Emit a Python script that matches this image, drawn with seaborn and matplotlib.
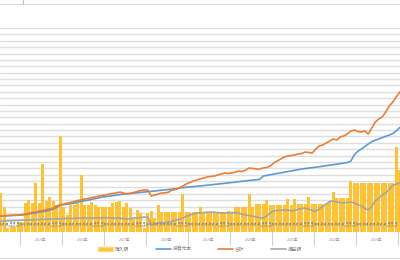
import matplotlib
matplotlib.use("Agg")
import matplotlib.pyplot as plt
import seaborn as sns
import pandas as pd
import numpy as np
from matplotlib.lines import Line2D
from matplotlib.patches import Patch

# ---- data (month index 0 = Jul 2014) ----
purchase = [6.1, 3.9, 0.6, 0.8, 0.8, 1.6, 1.6, 4.5, 5.0, 4.5, 7.7, 4.5, 10.7, 4.9, 5.5, 4.9,
            4.2, 15.1, 3.9, 2.7, 4.2, 4.2, 4.5, 8.9, 4.2, 4.2, 4.7, 4.2, 3.9, 3.9, 3.9, 3.9,
            4.5, 4.7, 4.9, 3.9, 4.5, 3.8, 2.2, 3.5, 3.0, 0.6, 3.0, 3.3, 2.2, 4.2, 3.1, 3.1,
            3.1, 3.1, 3.1, 3.1, 6.0, 3.1, 3.1, 3.1, 3.1, 3.9, 3.1, 3.1, 3.1, 3.1, 3.1, 3.1,
            3.1, 3.3, 3.1, 3.9, 3.9, 3.9, 3.9, 6.0, 3.9, 4.4, 4.4, 4.4, 5.0, 4.2, 4.2, 4.2,
            4.2, 4.2, 5.2, 4.2, 5.2, 4.4, 4.4, 4.4, 5.5, 4.4, 4.4, 4.4, 4.4, 4.4, 4.7, 6.3,
            5.3, 5.3, 5.3, 5.3, 8.0, 7.7, 7.7, 7.7, 7.7, 7.7, 7.7, 7.7, 7.7, 7.7, 7.7, 7.7,
            7.7, 13.3, 9.7]

principal = [5.1, 5.4, 5.6, 5.8, 6.0, 6.3, 6.6, 7.4, 8.2, 9.3, 10.0, 11.4, 12.0, 13.0, 14.3, 16.1,
             18.5, 22.4, 23.0, 23.6, 24.4, 25.2, 27.1, 28.0, 29.0, 30.0, 31.2, 32.4, 33.5, 34.9, 35.5, 36.2,
             37.0, 37.8, 38.6, 39.3, 40.0, 40.6, 41.0, 41.6, 42.2, 42.7, 43.2, 43.8, 44.3, 45.0, 45.5, 46.0,
             46.6, 47.4, 48.0, 49.0, 49.6, 50.3, 50.8, 51.3, 51.8, 52.2, 52.8, 53.4, 54.0, 54.6, 55.2, 55.8,
             56.4, 57.0, 57.6, 58.3, 59.0, 59.6, 60.2, 60.9, 61.4, 62.0, 62.4, 67.8, 68.8, 69.8, 70.8, 71.8,
             72.8, 73.8, 74.8, 75.8, 76.8, 77.8, 78.8, 79.5, 80.3, 81.0, 81.7, 82.4, 83.2, 84.0, 84.8, 85.6,
             86.4, 87.2, 88.0, 89.0, 91.0, 101.0, 106.5, 110.0, 114.0, 118.0, 121.5, 124.0, 126.0, 128.0, 130.0, 132.0,
             134.5, 138.5, 144.0]

total = [5.1, 5.4, 5.9, 6.2, 6.4, 6.7, 7.1, 8.2, 9.3, 10.6, 11.4, 12.9, 13.7, 15.3, 16.1, 17.6,
         20.8, 22.4, 23.9, 25.5, 26.3, 27.8, 29.4, 30.2, 31.8, 32.5, 34.1, 34.9, 36.5, 37.3, 38.0, 39.6,
         40.4, 41.2, 42.7, 41.2, 39.6, 40.4, 42.0, 43.5, 45.1, 45.9, 45.9, 36.5, 38.0, 39.6, 41.2, 41.2,
         42.7, 45.9, 46.7, 49.0, 52.2, 55.3, 57.6, 60.0, 61.6, 63.1, 64.7, 66.3, 67.1, 67.8, 69.4, 71.0,
         72.5, 71.8, 72.5, 74.1, 75.7, 74.9, 77.3, 80.4, 79.6, 78.8, 78.8, 80.4, 81.2, 83.5, 88.2, 91.4,
         94.5, 97.6, 99.2, 100.0, 100.8, 102.4, 103.1, 105.5, 104.7, 103.9, 110.2, 114.9, 116.5, 119.6, 122.7, 125.9,
         124.3, 129.0, 130.6, 133.7, 138.4, 140.0, 137.6, 136.9, 138.4, 133.7, 143.1, 152.5, 157.3, 160.4, 168.2, 177.6,
         183.9, 191.8, 199.6]

profit = [-3.0, -3.0, -2.5, -2.5, -2.0, -2.0, -1.5, -1.5, -1.0, -1.0, -0.5, -0.5, 0.0, 0.0, 0.5, 0.5,
          0.8, 0.5, 1.0, 1.5, 1.0, 1.5, 1.8, 2.0, 2.0, 1.5, 2.0, 2.0, 2.2, 2.0, 2.5, 2.0,
          2.0, 1.5, 2.0, 1.0, 0.5, 1.0, 2.0, 2.0, 2.5, 3.5, 3.0, -9.0, -7.0, -6.0, -5.0, -5.5,
          -4.5, -3.0, -1.5, 0.0, 2.0, 4.5, 6.5, 8.0, 9.5, 10.0, 10.5, 11.0, 11.4, 11.0, 10.5, 10.0,
          9.8, 10.0, 10.5, 10.0, 9.5, 8.0, 6.5, 5.5, 5.0, 3.5, 2.5, 2.0, 5.0, 10.0, 12.9, 14.0,
          14.0, 14.5, 14.5, 13.0, 14.0, 15.5, 17.0, 17.6, 16.0, 13.5, 12.9, 16.0, 20.0, 24.0, 28.0, 28.6,
          27.0, 26.0, 25.5, 26.5, 27.0, 25.5, 23.0, 20.8, 17.0, 14.5, 20.0, 28.6, 33.0, 38.0, 41.2, 47.0,
          53.0, 55.0, 57.0]

first_month = 7
years = [f"{y}年" for y in range(2015, 2024)]
months = [f"{(first_month - 1 + i) % 12 + 1}月" for i in range(len(purchase))]

legend_labels = ["購入額", "投資元本", "合計", "損益額"]
c_bar, c_blue, c_orange, c_gray = "#FFC233", "#5B9BD5", "#ED7D31", "#A5A5A5"

n = len(purchase)
idx = np.arange(n)
df = pd.DataFrame({"m": idx, "purchase": purchase, "principal": principal,
                   "total": total, "profit": profit})

sns.set_theme(style="white")
plt.rcParams["font.family"] = ["Noto Sans CJK JP", "DejaVu Sans"]

fig = plt.figure(figsize=(4, 2.6), dpi=100)
ax = fig.add_axes([0, 28 / 260, 1, 204 / 260])
ax.set_facecolor("none")

sns.barplot(data=df, x="m", y="purchase", ax=ax, color=c_bar, width=0.72,
            saturation=1, edgecolor="none", linewidth=0)
ax.set_ylim(0, 32)
ax.set_yticks(np.arange(0, 33, 1))
ax.yaxis.grid(True, color="#DEDEDE", linewidth=1.0)
ax.set_axisbelow(True)
ax.set_xlim(-0.214, 114.07)
ax.set_xticks([])
ax.set_yticklabels([])
ax.tick_params(left=False, bottom=False)
ax.set_xlabel("")
ax.set_ylabel("")
for s in ax.spines.values():
    s.set_visible(False)

ax2 = ax.twinx()
sns.lineplot(data=df, x="m", y="principal", ax=ax2, color=c_blue, linewidth=1.2)
sns.lineplot(data=df, x="m", y="total", ax=ax2, color=c_orange, linewidth=1.2)
sns.lineplot(data=df, x="m", y="profit", ax=ax2, color=c_gray, linewidth=1.2)
ax2.set_ylim(-20, 300)
ax2.set_xlim(-0.214, 114.07)
ax2.set_yticks([])
ax2.set_xlabel("")
ax2.set_ylabel("")
for s in ax2.spines.values():
    s.set_visible(False)

# month labels (inside plot, just below zero of primary axis)
for i, m in enumerate(months[:-1]):
    ax2.text(i, -1.5, m, fontsize=2.2, color="#8C8C8C", rotation=90,
             ha="center", va="top")

# year separators and labels below the axis
trans = ax.get_xaxis_transform()
for k in range(len(years) + 1):
    xb = 5.5 + 12 * k
    ax.plot([xb, xb], [0, -0.065], transform=trans, color="#D0D0D0",
            linewidth=0.8, clip_on=False)
for k, y in enumerate(years):
    ax.text(11.5 + 12 * k, -0.04, y, transform=trans, fontsize=2.6,
            color="#8C8C8C", ha="center", va="center")

# chart border remnants
fig.add_artist(Line2D([0, 1], [1 - 3.5 / 260] * 2, color="#D9D9D9", linewidth=0.8))
fig.add_artist(Line2D([23 / 400] * 2, [1, 1 - 3.5 / 260], color="#BFBFBF", linewidth=0.8))
fig.add_artist(Line2D([0, 1], [2 / 260] * 2, color="#D9D9D9", linewidth=0.8))

handles = [Patch(facecolor=c_bar, edgecolor="#FFD878"),
           Line2D([], [], color=c_blue, linewidth=1.2),
           Line2D([], [], color=c_orange, linewidth=1.2),
           Line2D([], [], color=c_gray, linewidth=1.2)]
fig.legend(handles, legend_labels, loc="center", bbox_to_anchor=(0.5, 11 / 260),
           ncol=4, frameon=False, fontsize=3.4, handlelength=3.2, handleheight=0.9,
           columnspacing=5.6, handletextpad=0.4, labelcolor="#7F7F7F")

fig.savefig("out.png", dpi=100)
